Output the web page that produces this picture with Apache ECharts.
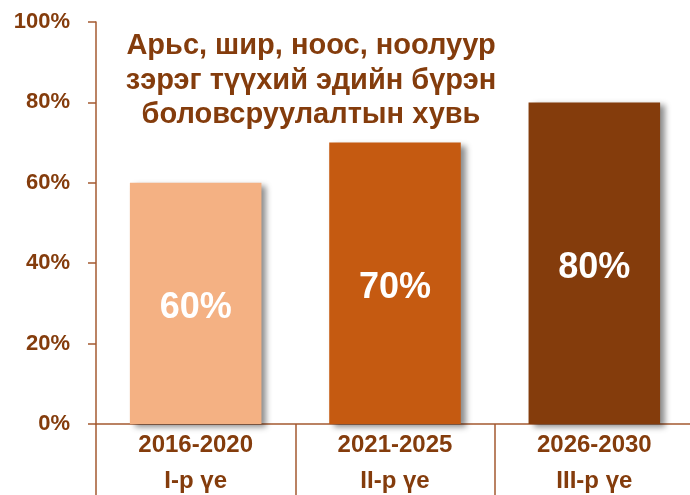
<!DOCTYPE html>
<html>
<head>
<meta charset="utf-8">
<script src="https://cdn.jsdelivr.net/npm/echarts@6/dist/echarts.min.js"></script>
<style>
  html, body { margin: 0; padding: 0; background: #fff; }
  #chart { width: 690px; height: 495px; }
</style>
</head>
<body>
<div id="chart"></div>
<script>
const periods = ['2016-2020', '2021-2025', '2026-2030'];
const stages = ['I-р үе', 'II-р үе', 'III-р үе'];
const shares = [60, 70, 80];
const barColors = ['#F4B183', '#C55A11', '#843C0C'];
const titleLines = ['Арьс, шир, ноос, ноолуур', 'зэрэг түүхий эдийн бүрэн', 'боловсруулалтын хувь'];

const brown = '#843C0C';
const axisColor = '#A45A30';
const font = '"Liberation Sans", Arial, sans-serif';

const chart = echarts.init(document.getElementById('chart'));

chart.setOption({
  animation: false,
  title: {
    text: titleLines.join('\n'),
    left: 306,
    top: 24,
    textAlign: 'center',
    textStyle: {
      color: brown,
      fontFamily: font,
      fontWeight: 'bold',
      fontSize: 29,
      lineHeight: 34.5,
    },
  },
  grid: { left: 96, right: -4, top: 22, bottom: 71, outerBoundsMode: 'none' },
  xAxis: {
    type: 'category',
    data: periods.map((p, i) => p + '\n' + stages[i]),
    axisLine: { lineStyle: { color: axisColor, width: 1.5 } },
    axisTick: { show: true, length: 75, lineStyle: { color: axisColor, width: 1.5 } },
    axisLabel: {
      color: brown,
      fontFamily: font,
      fontWeight: 'bold',
      fontSize: 24,
      lineHeight: 36,
      margin: 3,
    },
  },
  yAxis: {
    type: 'value',
    min: 0,
    max: 100,
    interval: 20,
    axisLine: { show: true, lineStyle: { color: axisColor, width: 1.5 } },
    axisTick: { show: true, length: 8, lineStyle: { color: axisColor, width: 1.5 } },
    splitLine: { show: false },
    axisLabel: {
      color: brown,
      fontFamily: font,
      fontWeight: 'bold',
      fontSize: 22,
      margin: 26,
      formatter: '{value}%',
    },
  },
  series: [
    {
      type: 'bar',
      barWidth: '66%',
      data: shares.map((v, i) => ({
        value: v,
        itemStyle: { color: barColors[i] },
      })),
      itemStyle: {
        shadowColor: 'rgba(0,0,0,0.45)',
        shadowBlur: 6,
        shadowOffsetX: 5,
        shadowOffsetY: 3,
      },
      label: {
        show: true,
        position: 'inside',
        offset: [0, 5],
        color: '#fff',
        fontFamily: font,
        fontWeight: 'bold',
        fontSize: 36,
        formatter: '{c}%',
      },
    },
  ],
});
</script>
</body>
</html>
